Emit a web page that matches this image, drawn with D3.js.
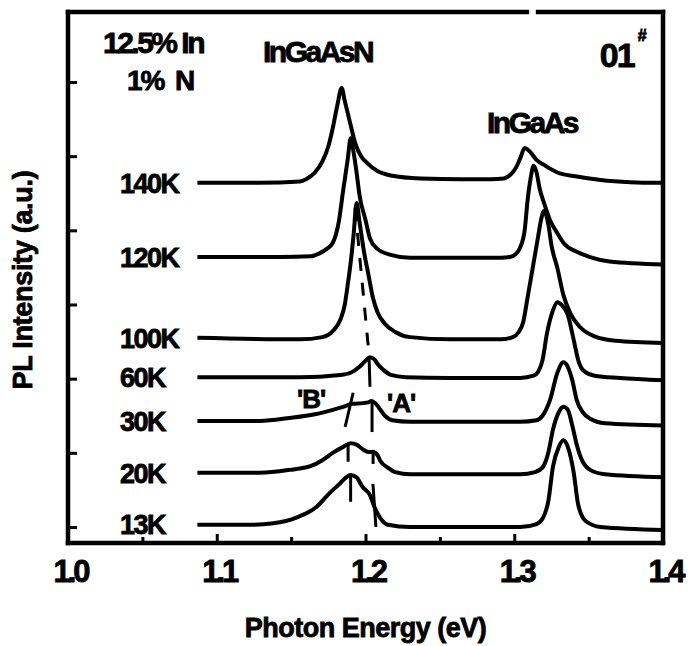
<!DOCTYPE html>
<html>
<head>
<meta charset="utf-8">
<script src="https://cdn.jsdelivr.net/npm/d3@7"></script>
<style>
  html, body { margin: 0; padding: 0; background: #fff; }
  svg { display: block; font-family: "Liberation Sans", Arial, sans-serif; font-weight: bold; }
  .lbl { fill: #000; stroke: #000; stroke-width: 0.8; }
</style>
</head>
<body>
<svg id="chart" width="694" height="646"></svg>
<script>
// PL spectra, [photon energy (eV), intensity (a.u., stacked)]
const spec140K = [[1.087,4.64],[1.129,4.64],[1.156,4.66],[1.160,4.69],[1.166,4.78],[1.171,4.93],[1.175,5.13],[1.178,5.38],[1.181,5.68],[1.184,5.92],[1.186,5.75],[1.190,5.42],[1.193,5.18],[1.197,5.00],[1.201,4.91],[1.208,4.80],[1.217,4.74],[1.237,4.70],[1.264,4.69],[1.284,4.69],[1.293,4.70],[1.298,4.76],[1.301,4.84],[1.304,4.97],[1.307,5.11],[1.311,5.05],[1.315,4.95],[1.321,4.87],[1.329,4.78],[1.341,4.73],[1.358,4.68],[1.378,4.65],[1.400,4.64]];
const spec120K = [[1.087,3.64],[1.143,3.64],[1.163,3.65],[1.169,3.69],[1.174,3.75],[1.178,3.83],[1.182,4.11],[1.185,4.54],[1.188,4.95],[1.190,5.24],[1.192,5.05],[1.194,4.78],[1.196,4.47],[1.200,4.14],[1.203,3.89],[1.208,3.75],[1.217,3.67],[1.230,3.63],[1.264,3.63],[1.291,3.63],[1.297,3.64],[1.301,3.68],[1.304,3.77],[1.307,4.00],[1.309,4.41],[1.311,4.70],[1.313,4.87],[1.315,4.78],[1.317,4.57],[1.320,4.37],[1.324,4.14],[1.329,3.96],[1.334,3.81],[1.341,3.72],[1.351,3.64],[1.364,3.58],[1.400,3.54]];
const spec100K = [[1.087,2.55],[1.156,2.53],[1.171,2.56],[1.178,2.64],[1.183,2.79],[1.186,2.99],[1.188,3.26],[1.190,3.56],[1.192,3.94],[1.194,4.37],[1.196,4.11],[1.199,3.71],[1.202,3.40],[1.205,3.09],[1.208,2.90],[1.213,2.74],[1.220,2.63],[1.230,2.56],[1.257,2.53],[1.291,2.53],[1.299,2.56],[1.303,2.63],[1.306,2.76],[1.309,3.10],[1.313,3.56],[1.316,3.91],[1.318,4.14],[1.320,4.26],[1.323,4.07],[1.325,3.80],[1.329,3.49],[1.333,3.13],[1.338,2.87],[1.344,2.70],[1.354,2.57],[1.368,2.51],[1.400,2.48]];
const spec60K = [[1.087,2.02],[1.156,2.02],[1.183,2.05],[1.190,2.08],[1.196,2.16],[1.200,2.24],[1.203,2.29],[1.206,2.26],[1.208,2.20],[1.212,2.12],[1.217,2.05],[1.227,2.02],[1.257,2.01],[1.304,2.01],[1.313,2.04],[1.316,2.09],[1.319,2.25],[1.322,2.61],[1.326,2.92],[1.329,3.03],[1.332,2.99],[1.336,2.86],[1.340,2.52],[1.343,2.25],[1.346,2.12],[1.354,2.04],[1.371,2.01],[1.400,1.98]];
const spec30K = [[1.087,1.43],[1.129,1.43],[1.149,1.47],[1.166,1.52],[1.178,1.58],[1.185,1.62],[1.191,1.66],[1.198,1.67],[1.202,1.68],[1.204,1.70],[1.207,1.66],[1.210,1.58],[1.213,1.50],[1.218,1.44],[1.230,1.42],[1.257,1.42],[1.304,1.42],[1.315,1.44],[1.319,1.50],[1.324,1.71],[1.329,2.08],[1.333,2.22],[1.336,2.16],[1.339,1.98],[1.342,1.71],[1.346,1.55],[1.351,1.46],[1.361,1.40],[1.400,1.37]];
const spec20K = [[1.087,0.73],[1.129,0.73],[1.149,0.77],[1.163,0.82],[1.171,0.90],[1.178,1.00],[1.185,1.08],[1.190,1.13],[1.194,1.11],[1.198,1.05],[1.202,1.01],[1.205,1.01],[1.208,0.97],[1.210,0.89],[1.215,0.80],[1.220,0.74],[1.230,0.71],[1.257,0.71],[1.304,0.71],[1.314,0.74],[1.319,0.80],[1.323,1.01],[1.326,1.31],[1.330,1.55],[1.333,1.62],[1.336,1.58],[1.339,1.37],[1.342,1.11],[1.346,0.88],[1.351,0.77],[1.361,0.71],[1.400,0.67]];
const spec13K = [[1.087,0.03],[1.122,0.03],[1.138,0.05],[1.154,0.13],[1.167,0.27],[1.176,0.46],[1.183,0.59],[1.187,0.67],[1.190,0.70],[1.194,0.67],[1.198,0.54],[1.203,0.43],[1.206,0.27],[1.210,0.12],[1.215,0.03],[1.230,0.00],[1.257,0.00],[1.304,0.00],[1.315,0.04],[1.319,0.11],[1.323,0.36],[1.326,0.81],[1.330,1.08],[1.333,1.17],[1.336,1.08],[1.340,0.73],[1.343,0.30],[1.348,0.08],[1.358,0.00],[1.400,-0.04]];

const temperatures = ["140K", "120K", "100K", "60K", "30K", "20K", "13K"];
const spectra = [spec140K, spec120K, spec100K, spec60K, spec30K, spec20K, spec13K];

const xTicksMajor = [1.0, 1.1, 1.2, 1.3, 1.4];
const xTicksMinor = [1.05, 1.15, 1.25, 1.35];
const yTicks = [0, 1, 2, 3, 4, 5, 6];

// peak markers 'A' and 'B': [E1, I1, E2, I2]
const markerStems = [
  [1.2024, 2.28, 1.2030, 1.89],
  [1.2044, 1.68, 1.2044, 1.28],
  [1.1863, 1.35, 1.1917, 1.81],
  [1.1883, 1.12, 1.1883, 0.88],
  [1.2051, 1.04, 1.2051, 0.85],
  [1.1900, 0.69, 1.1900, 0.34],
  [1.2050, 0.58, 1.2070, 0.00],
];
const trendA = [[1.1930, 4.30], [1.2024, 2.32]];

// free text: [text, E, I, size, anchor, letterSpacing]
const notes = [
  ["12.5% In", 1.0235, 6.39, 30, "start", -2.5],
  ["1%  N", 1.0397, 5.89, 28, "start", -2],
  ["InGaAsN", 1.1311, 6.27, 30, "start", -2.5],
  ["InGaAs", 1.2817, 5.31, 30, "start", -2.5],
  ["01", 1.3575, 6.20, 34, "start", -2],
  ["#", 1.3830, 6.55, 16, "start", 0],
  ["'B'", 1.1634, 1.60, 26, "middle", -1],
  ["'A'", 1.2239, 1.55, 26, "middle", -1],
];

const width = 694;
const height = 646;
const margin = { top: 12, right: 31, bottom: 103, left: 68 };

const svg = d3.select("#chart");

const x = d3.scaleLinear()
  .domain([1.0, 1.4])
  .range([margin.left, width - margin.right]);

const y = d3.scaleLinear()
  .domain([-0.216, 6.944])
  .range([height - margin.bottom, margin.top]);

const plotBottom = height - margin.bottom;

// minor ticks
svg.append("g")
  .attr("transform", `translate(0,${plotBottom})`)
  .call(d3.axisBottom(x).tickValues(xTicksMinor).tickSize(-6).tickFormat(""))
  .call((g) => g.select(".domain").remove())
  .call((g) => g.selectAll("line").attr("stroke", "#000").attr("stroke-width", 3));

// major ticks with labels
svg.append("g")
  .attr("transform", `translate(0,${plotBottom})`)
  .call(d3.axisBottom(x).tickValues(xTicksMajor).tickSize(-9).tickPadding(17).tickFormat(d3.format(".1f")))
  .call((g) => g.select(".domain").remove())
  .call((g) => g.selectAll("line").attr("stroke", "#000").attr("stroke-width", 3))
  .call((g) =>
    g.selectAll("text")
      .attr("class", "lbl")
      .attr("dx", 2)
      .style("font-size", "31px")
      .style("letter-spacing", "-3px")
      .style("font-family", null),
  );

svg.append("g")
  .attr("transform", `translate(${margin.left},0)`)
  .call(d3.axisLeft(y).tickValues(yTicks).tickSize(-9).tickFormat(""))
  .call((g) => g.select(".domain").remove())
  .call((g) => g.selectAll("line").attr("stroke", "#000").attr("stroke-width", 3));

// frame, top edge has a small break as in the scan
const frame = svg.append("g")
  .attr("stroke", "#000")
  .attr("stroke-width", 4.5)
  .attr("stroke-linecap", "square");

const x0 = x(1.0);
const x1 = x(1.4);
const yTop = margin.top;
frame.append("line").attr("x1", x0).attr("x2", x0).attr("y1", yTop).attr("y2", plotBottom);
frame.append("line").attr("x1", x1).attr("x2", x1).attr("y1", yTop).attr("y2", plotBottom);
frame.append("line").attr("x1", x0).attr("x2", x1).attr("y1", plotBottom).attr("y2", plotBottom);
frame.append("line").attr("x1", x0).attr("x2", x(1.3085)).attr("y1", yTop).attr("y2", yTop);
frame.append("line").attr("x1", x(1.3160)).attr("x2", x1).attr("y1", yTop).attr("y2", yTop);

const line = d3.line()
  .x((d) => x(d[0]))
  .y((d) => y(d[1]))
  .curve(d3.curveMonotoneX);

svg.append("g")
  .selectAll("path")
  .data(spectra)
  .join("path")
  .attr("d", line)
  .attr("fill", "none")
  .attr("stroke", "#000")
  .attr("stroke-width", 4)
  .attr("stroke-linejoin", "round");

svg.append("path")
  .attr("d", d3.line().x((d) => x(d[0])).y((d) => y(d[1]))(trendA))
  .attr("fill", "none")
  .attr("stroke", "#000")
  .attr("stroke-width", 3)
  .attr("stroke-dasharray", "13 12");

svg.append("g")
  .selectAll("line")
  .data(markerStems)
  .join("line")
  .attr("x1", (d) => x(d[0]))
  .attr("y1", (d) => y(d[1]))
  .attr("x2", (d) => x(d[2]))
  .attr("y2", (d) => y(d[3]))
  .attr("stroke", "#000")
  .attr("stroke-width", 3);

svg.append("g")
  .selectAll("text")
  .data(temperatures)
  .join("text")
  .attr("class", "lbl")
  .attr("x", x(1.0350))
  .attr("y", (d, i) => y(spectra[i][0][1]))
  .attr("dy", "0.36em")
  .style("font-size", "27px")
  .style("letter-spacing", "-1.5px")
  .text((d) => d);

svg.append("g")
  .selectAll("text")
  .data(notes)
  .join("text")
  .attr("class", "lbl")
  .attr("x", (d) => x(d[1]))
  .attr("y", (d) => y(d[2]))
  .attr("text-anchor", (d) => d[4])
  .style("font-size", (d) => `${d[3]}px`)
  .style("letter-spacing", (d) => `${d[5]}px`)
  .style("white-space", "pre")
  .text((d) => d[0]);

svg.append("text")
  .attr("class", "lbl")
  .attr("x", (x0 + x1) / 2)
  .attr("y", 637)
  .attr("text-anchor", "middle")
  .style("font-size", "27px")
  .style("letter-spacing", "-0.5px")
  .text("Photon Energy (eV)");

svg.append("text")
  .attr("class", "lbl")
  .attr("transform", "translate(32,280) rotate(-90)")
  .attr("text-anchor", "middle")
  .style("font-size", "27px")
  .style("letter-spacing", "-0.3px")
  .text("PL Intensity (a.u.)");
</script>
</body>
</html>
